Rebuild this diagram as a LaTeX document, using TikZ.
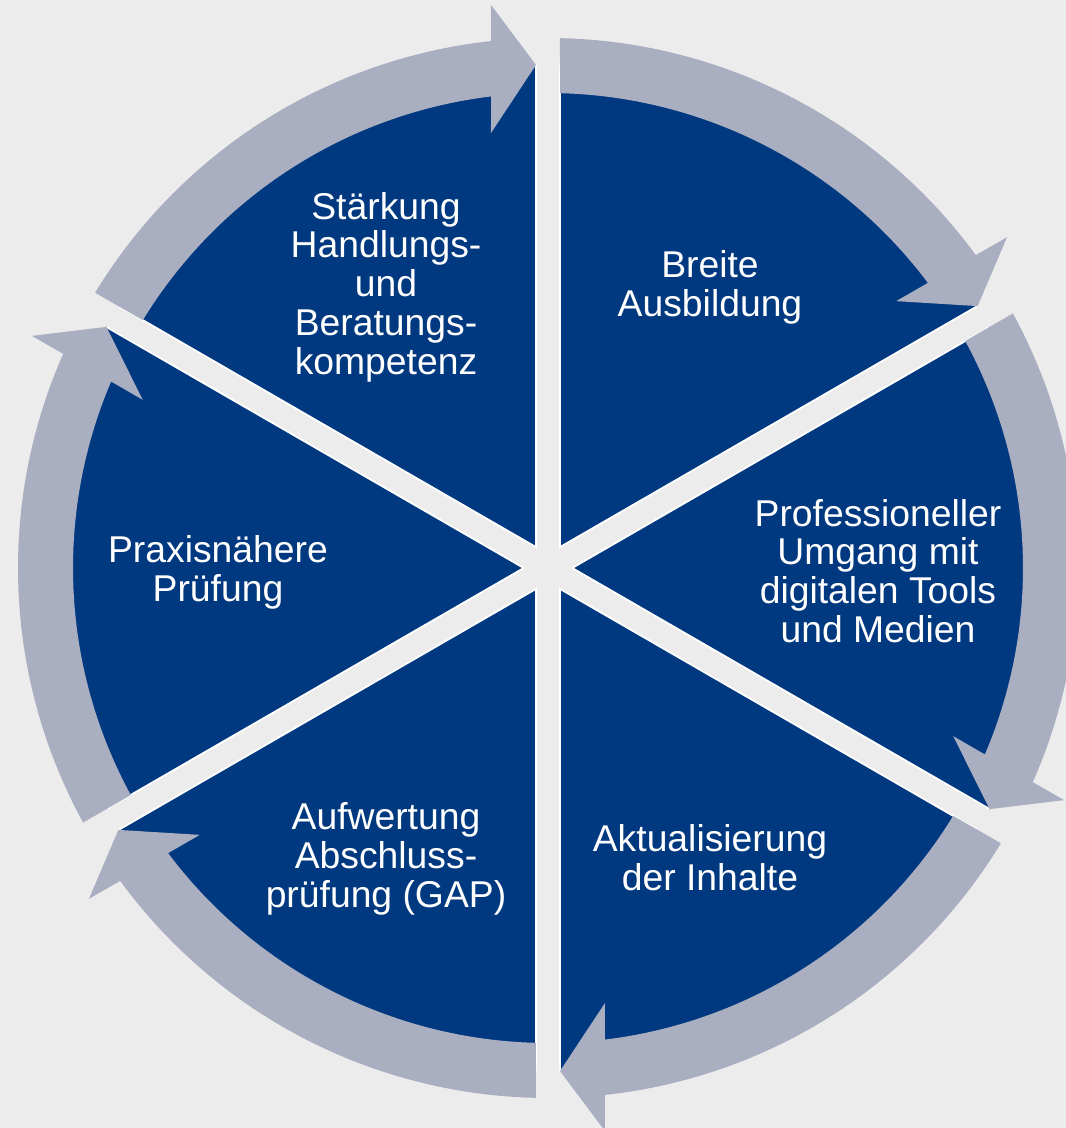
\documentclass[tikz,border=0pt]{standalone}
\usepackage{fontspec}
\setmainfont{Liberation Sans}
\definecolor{bgc}{RGB}{236,236,236}
\definecolor{bluec}{RGB}{0,57,128}
\definecolor{ringc}{RGB}{169,174,193}
\begin{document}
\begin{tikzpicture}[
  lbl/.style={text=white, font=\fontsize{37.3}{38.8}\selectfont, align=center, inner sep=0pt},
  ringarrow/.style={fill=ringc},
  gapedge/.style={draw=white, line width=26pt},
  gapfill/.style={draw=bgc, line width=22pt}
]
\useasboundingbox (-548pt,-560pt) rectangle (518pt,568pt);
\clip (-548pt,-560pt) rectangle (518pt,568pt);
\fill[bgc] (-548pt,-560pt) rectangle (518pt,568pt);
% blue disk
\fill[bluec] (0,0) circle[radius=503pt];
% white edges of the gaps
\begin{scope}
  \clip (0,0) circle[radius=503pt];
  \foreach \a in {90,30,-30}{
    \draw[gapedge] (\a:560pt) -- (\a+180:560pt);
  }
\end{scope}
\foreach \a in {90,30,-30}{
  \draw[gapfill] (\a:560pt) -- (\a+180:560pt);
}
% ring arrows
\foreach \k in {0,...,5}{
  \begin{scope}[rotate=-60*\k]
    \fill[ringarrow] (148.703:530pt) arc[start angle=148.703, end angle=96.174, radius=530pt]
      -- (-57pt,563pt) -- (-12pt,503pt) -- (-57pt,435pt)
      -- (96.892:475pt) arc[start angle=96.892, end angle=148.552, radius=475pt] -- cycle;
  \end{scope}
}
% labels
\node[lbl] (t1) at (162pt,281pt) {Breite\\Ausbildung};
\node[lbl] (t2) at (330pt,-3pt) {Professioneller\\Umgang mit\\digitalen Tools\\und Medien};
\node[lbl] (t3) at (162pt,-290pt) {Aktualisierung\\der Inhalte};
\node[lbl] (t4) at (-162pt,-291pt) {Aufwertung\\Abschluss-\\prüfung (GAP)};
\node[lbl] (t5) at (-330pt,-4pt) {Praxisnähere\\Prüfung};
\node[lbl] (t6) at (-162pt,281pt) {Stärkung\\Handlungs-\\und\\Beratungs-\\kompetenz};
\end{tikzpicture}
\end{document}
